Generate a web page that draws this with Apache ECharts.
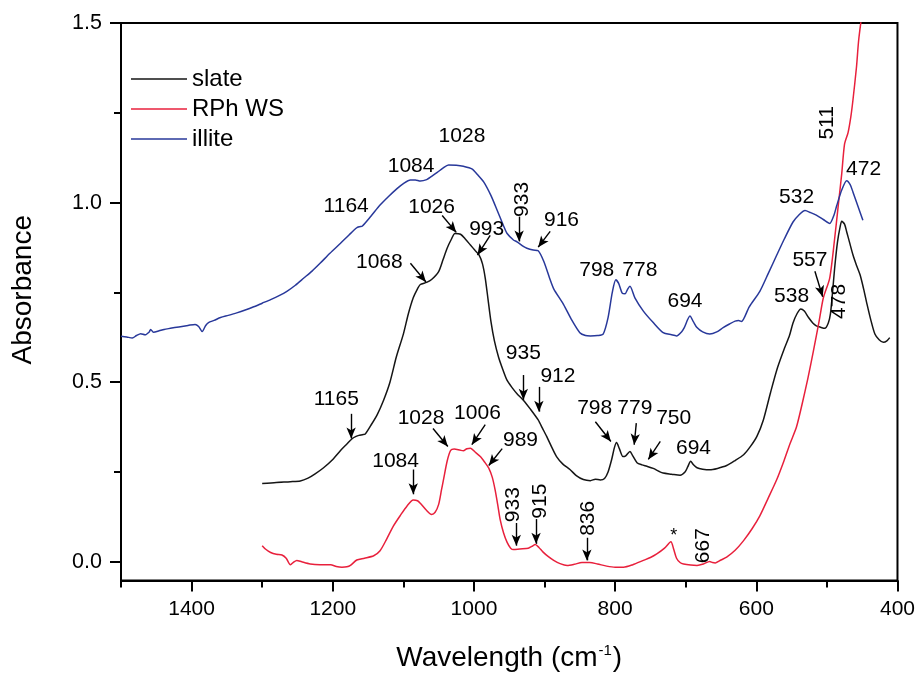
<!DOCTYPE html>
<html><head><meta charset="utf-8">
<script src="https://cdn.jsdelivr.net/npm/echarts@6/dist/echarts.min.js"></script>
<style>html,body{margin:0;padding:0;background:#fff}#c{width:918px;height:677px}</style>
</head><body><div id="c"></div>
<script>
const seriesNames = ['slate', 'RPh WS', 'illite'];
const xMajorTicks = [400, 600, 800, 1000, 1200, 1400];
const xMinorTicks = [500, 700, 900, 1100, 1300, 1500];
const yMajorTicks = [0, 0.5, 1.0, 1.5];
const yMinorTicks = [0.25, 0.75, 1.25];

const illite = [[1500,0.628],[1492,0.626],[1484,0.623],[1478,0.630],[1472,0.635],[1466,0.632],[1460,0.640],[1458,0.647],[1454,0.639],[1446,0.643],[1439,0.647],[1430,0.650],[1418,0.654],[1405,0.658],[1395,0.661],[1390,0.655],[1385,0.641],[1380,0.658],[1376,0.666],[1368,0.672],[1359,0.680],[1348,0.686],[1336,0.693],[1324,0.701],[1312,0.710],[1300,0.720],[1288,0.730],[1276,0.741],[1265,0.753],[1253,0.770],[1241,0.790],[1229,0.810],[1218,0.831],[1204,0.859],[1189,0.887],[1177,0.910],[1166,0.930],[1162,0.933],[1158,0.935],[1146,0.962],[1133,0.993],[1121,1.017],[1109,1.039],[1100,1.053],[1090,1.063],[1083,1.063],[1076,1.060],[1067,1.064],[1060,1.073],[1052,1.084],[1044,1.096],[1036,1.105],[1025,1.104],[1015,1.101],[1003,1.094],[995,1.078],[986,1.057],[976,1.020],[967,0.978],[958,0.935],[953,0.914],[944,0.896],[939,0.891],[930,0.878],[925,0.873],[916,0.868],[909,0.866],[901,0.836],[892,0.785],[887,0.760],[873,0.716],[862,0.675],[850,0.638],[842,0.630],[835,0.629],[825,0.630],[817,0.634],[810,0.680],[804,0.750],[799,0.785],[795,0.775],[790,0.748],[786,0.746],[782,0.760],[779,0.767],[772,0.735],[760,0.698],[746,0.666],[732,0.638],[720,0.632],[713,0.629],[706,0.640],[702,0.652],[694,0.684],[689,0.668],[684,0.652],[676,0.640],[666,0.634],[656,0.640],[647,0.652],[638,0.662],[630,0.670],[625,0.672],[621,0.669],[610,0.710],[595,0.753],[583,0.803],[571,0.854],[560,0.900],[548,0.946],[540,0.965],[531,0.978],[523,0.972],[515,0.965],[505,0.953],[496,0.942],[490,0.965],[486,0.992],[479,1.035],[472,1.061],[467,1.050],[463,1.029],[456,0.990],[449,0.951]];

const slate = [[1300,0.218],[1280,0.221],[1260,0.223],[1246,0.225],[1235,0.233],[1225,0.245],[1213,0.262],[1200,0.285],[1189,0.310],[1180,0.328],[1173,0.342],[1167,0.349],[1163,0.352],[1158,0.354],[1154,0.356],[1146,0.380],[1137,0.410],[1128,0.450],[1119,0.500],[1110,0.570],[1100,0.634],[1093,0.690],[1086,0.735],[1080,0.760],[1076,0.772],[1067,0.778],[1060,0.786],[1050,0.808],[1044,0.840],[1038,0.873],[1032,0.898],[1027,0.914],[1019,0.912],[1012,0.898],[1005,0.882],[998,0.866],[993,0.855],[988,0.830],[984,0.790],[980,0.730],[976,0.670],[971,0.615],[965,0.569],[959,0.535],[953,0.505],[946,0.485],[939,0.468],[930,0.450],[920,0.425],[909,0.395],[903,0.372],[897,0.349],[890,0.320],[883,0.293],[874,0.272],[864,0.257],[855,0.240],[845,0.229],[835,0.226],[828,0.230],[821,0.228],[815,0.232],[810,0.250],[805,0.284],[801,0.318],[798,0.332],[794,0.315],[789,0.293],[785,0.295],[779,0.307],[775,0.295],[769,0.276],[762,0.270],[755,0.266],[746,0.260],[738,0.252],[732,0.247],[720,0.244],[708,0.241],[701,0.250],[697,0.265],[693,0.280],[689,0.270],[684,0.262],[676,0.258],[666,0.256],[655,0.260],[642,0.268],[630,0.282],[618,0.298],[608,0.322],[599,0.350],[590,0.395],[580,0.470],[570,0.540],[560,0.595],[553,0.630],[548,0.665],[542,0.692],[537,0.704],[532,0.698],[526,0.680],[520,0.665],[515,0.657],[509,0.653],[503,0.650],[498,0.665],[495,0.690],[492,0.750],[489,0.818],[485,0.890],[481,0.935],[479,0.948],[475,0.940],[472,0.919],[468,0.890],[463,0.854],[458,0.825],[453,0.799],[448,0.760],[443,0.716],[438,0.675],[432,0.634],[426,0.618],[420,0.611],[415,0.615],[411,0.624]];

const rphws = [[1300,0.045],[1295,0.035],[1288,0.026],[1280,0.021],[1272,0.019],[1266,0.010],[1260,-0.008],[1255,0.000],[1251,0.004],[1244,0.000],[1232,-0.006],[1218,-0.008],[1203,-0.008],[1195,-0.013],[1187,-0.015],[1180,-0.014],[1175,-0.010],[1166,0.005],[1155,0.010],[1142,0.017],[1133,0.031],[1124,0.062],[1114,0.100],[1104,0.130],[1095,0.155],[1086,0.172],[1080,0.170],[1076,0.163],[1068,0.145],[1060,0.132],[1055,0.138],[1050,0.160],[1046,0.200],[1043,0.230],[1038,0.280],[1033,0.310],[1028,0.314],[1020,0.311],[1015,0.309],[1010,0.315],[1005,0.316],[998,0.305],[991,0.293],[985,0.278],[979,0.261],[974,0.235],[970,0.200],[966,0.155],[963,0.119],[958,0.080],[953,0.054],[948,0.038],[944,0.034],[935,0.036],[923,0.038],[918,0.043],[913,0.048],[908,0.040],[902,0.027],[895,0.015],[887,0.004],[878,-0.005],[868,-0.010],[858,-0.007],[847,-0.002],[836,-0.002],[825,-0.006],[812,-0.012],[800,-0.015],[788,-0.015],[775,-0.008],[760,0.004],[750,0.012],[741,0.022],[730,0.038],[721,0.056],[717,0.035],[713,0.010],[708,-0.002],[703,-0.006],[693,-0.009],[684,-0.010],[675,-0.006],[666,0.001],[662,-0.002],[658,-0.003],[650,0.005],[642,0.013],[630,0.032],[618,0.059],[606,0.092],[595,0.128],[583,0.178],[571,0.229],[561,0.280],[552,0.330],[543,0.376],[535,0.440],[527,0.510],[519,0.588],[511,0.670],[505,0.735],[496,0.790],[489,0.900],[484,0.990],[479,1.080],[475,1.163],[470,1.195],[466,1.240],[463,1.287],[458,1.379],[455,1.452],[450,1.530]];

// peak labels: [text, wavenumber, absorbance]
const peakLabels = [
  ['1164',1181,0.989],['1084',1089,1.102],['1028',1017,1.185],['916',876,0.950],
  ['798',826,0.812],['778',765,0.812],['694',701,0.725],['532',543,1.015],['472',448,1.094],
  ['1026',1060,0.986],['993',982,0.925],['1068',1134,0.834],['1165',1195,0.453],
  ['935',930,0.580],['912',881,0.518],['798',829,0.427],['779',772,0.427],['750',717,0.401],
  ['694',689,0.317],['538',550,0.739],['557',524,0.841],
  ['1084',1111,0.280],['1028',1075,0.401],['1006',995,0.415],['989',934,0.339]
];
const peakLabelsVertical = [
  ['933',931,1.009],['511',499,1.222],['478',482,0.725],
  ['933',944,0.159],['915',906,0.169],['836',838,0.121],['667',675,0.045]
];
const starLabel = [['*',717,0.073]];
// arrows: [fromWn, fromAbs, toWn, toAbs]
const arrows = [
  [936,0.961,936,0.892],[892,0.920,909,0.876],
  [1045,0.964,1025,0.917],[977,0.909,995,0.854],[1090,0.831,1068,0.779],
  [1174,0.412,1174,0.343],[930,0.520,930,0.451],[908,0.487,908,0.418],
  [828,0.390,806,0.335],[770,0.386,773,0.326],[736,0.335,753,0.285],
  [517,0.809,506,0.738],
  [1086,0.257,1086,0.188],[1058,0.371,1037,0.321],[984,0.382,1003,0.326],
  [960,0.315,979,0.268],[940,0.108,940,0.045],[912,0.119,912,0.050],[840,0.067,840,0.004]
];

const FONT = "'Liberation Sans', Arial, Helvetica, sans-serif";
const chart = echarts.init(document.getElementById('c'), null, {renderer: 'canvas'});

function labelData(arr) { return arr.map(a => ({name: a[0], value: [a[1], a[2]]})); }
const labelBase = {show: true, position: 'inside', formatter: '{b}', color: '#000', opacity: 1, textBorderWidth: 0, textBorderColor: 'transparent', fontFamily: FONT};

const option = {
  animation: false,
  backgroundColor: '#fff',
  textStyle: {fontFamily: FONT},
  grid: {left: 121, right: 20, top: 23, bottom: 92, show: true, borderColor: '#000', borderWidth: 2, backgroundColor: 'transparent'},
  legend: {
    orient: 'vertical', left: 126, top: 59, itemWidth: 56, itemHeight: 1.6, icon: 'rect', itemGap: 0,
    data: seriesNames,
    textStyle: {fontSize: 24, lineHeight: 30, color: '#000', fontFamily: FONT}
  },
  xAxis: [
    {
      type: 'value', min: 400, max: 1500, inverse: true, position: 'bottom',
      name: '{a|Wavelength (cm}{b|-1}{a|)}', nameLocation: 'middle', nameGap: 63,
      nameTextStyle: {rich: {a: {fontSize: 28, fontFamily: FONT, color: '#000'}, b: {fontSize: 15, fontFamily: FONT, color: '#000', verticalAlign: 'top', padding: [0, 1, 14, 1]}}},
      axisLine: {onZero: false, lineStyle: {color: '#000', width: 2}},
      axisTick: {inside: false, length: 11, customValues: xMajorTicks, lineStyle: {color: '#000', width: 2}},
      axisLabel: {customValues: xMajorTicks, fontSize: 21, color: '#000', margin: 18, fontFamily: FONT, formatter: v => String(v)},
      splitLine: {show: false}
    },
    {
      type: 'value', min: 400, max: 1500, inverse: true, position: 'bottom',
      axisLine: {show: false, onZero: false},
      axisTick: {inside: false, length: 7, customValues: xMinorTicks, lineStyle: {color: '#000', width: 2}},
      axisLabel: {show: false},
      splitLine: {show: false}
    }
  ],
  yAxis: [
    {
      type: 'value', min: -0.052, max: 1.5, position: 'left',
      name: 'Absorbance', nameLocation: 'middle', nameGap: 84,
      nameTextStyle: {fontSize: 28, color: '#000', fontFamily: FONT, padding: [0, 0, 0, 24]},
      axisLine: {onZero: false, lineStyle: {color: '#000', width: 2}},
      axisTick: {inside: false, length: 11, customValues: yMajorTicks, lineStyle: {color: '#000', width: 2}},
      axisLabel: {customValues: yMajorTicks, fontSize: 21.5, color: '#000', margin: 19, fontFamily: FONT, formatter: v => v.toFixed(1)},
      splitLine: {show: false}
    },
    {
      type: 'value', min: -0.052, max: 1.5, position: 'left',
      axisLine: {show: false, onZero: false},
      axisTick: {inside: false, length: 7, customValues: yMinorTicks, lineStyle: {color: '#000', width: 2}},
      axisLabel: {show: false},
      splitLine: {show: false}
    }
  ],
  series: [
    {name: 'slate', type: 'line', data: slate, showSymbol: false, smooth: 0.25, color: '#151515', lineStyle: {width: 1.5, color: '#151515'}, z: 3},
    {name: 'RPh WS', type: 'line', data: rphws, showSymbol: false, smooth: 0.25, color: '#e8203c', lineStyle: {width: 1.5, color: '#e8203c'}, z: 3},
    {name: 'illite', type: 'line', data: illite, showSymbol: false, smooth: 0.25, color: '#28389a', lineStyle: {width: 1.5, color: '#28389a'}, z: 3},
    {
      name: 'labels', type: 'scatter', data: labelData(peakLabels), symbolSize: 0, silent: true, z: 5,
      itemStyle: {opacity: 1, color: '#000'},
      label: Object.assign({}, labelBase, {fontSize: 21}),
      markLine: {
        silent: true, symbol: ['none', 'arrow'], symbolSize: [7, 11], animation: false,
        label: {show: false}, emphasis: {disabled: true},
        lineStyle: {color: '#000', width: 1.4, type: 'solid', opacity: 1},
        data: arrows.map(a => [{coord: [a[0], a[1]]}, {coord: [a[2], a[3]]}])
      }
    },
    {
      name: 'vlabels', type: 'scatter', data: labelData(peakLabelsVertical), symbolSize: 0, silent: true, z: 5,
      itemStyle: {opacity: 1, color: '#000'},
      label: Object.assign({}, labelBase, {fontSize: 21, rotate: 90})
    },
    {
      name: 'star', type: 'scatter', data: labelData(starLabel), symbolSize: 0, silent: true, z: 5,
      itemStyle: {opacity: 1, color: '#000'},
      label: Object.assign({}, labelBase, {fontSize: 18})
    }
  ]
};
chart.setOption(option);
</script></body></html>
